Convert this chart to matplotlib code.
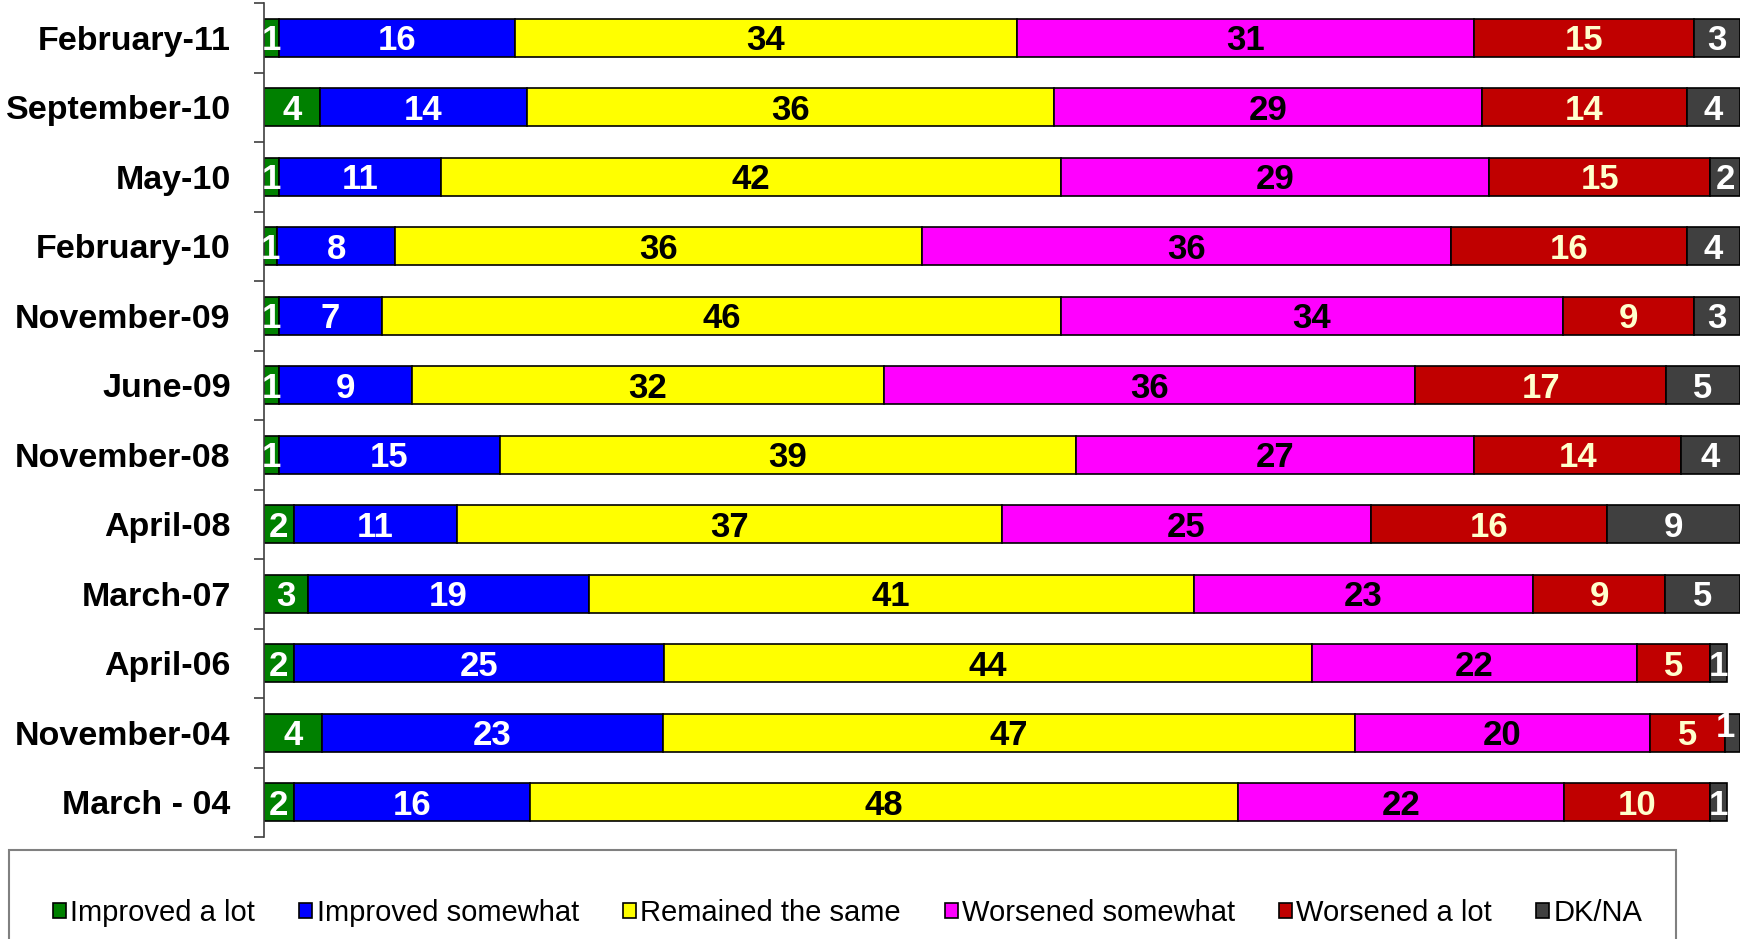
import numpy as np
import matplotlib.pyplot as plt
from matplotlib.patches import Rectangle, Patch

# Survey waves, top to bottom
periods = ["February-11", "September-10", "May-10", "February-10", "November-09",
           "June-09", "November-08", "April-08", "March-07", "April-06",
           "November-04", "March - 04"]

# Shares (%)
improved_lot = [1.0, 3.8, 1.0, 0.9, 1.0, 1.0, 1.0, 2.0, 3.0, 2.0, 3.9, 2.0]
improved_some = [16.0, 14.0, 11.0, 8.0, 7.0, 9.0, 15.0, 11.1, 19.0, 25.1, 23.1, 16.0]
remained_same = [34.0, 35.7, 42.0, 35.7, 46.0, 32.0, 39.0, 36.9, 41.0, 43.9, 46.9, 48.0]
worsened_some = [31.0, 29.0, 29.0, 35.8, 34.0, 36.0, 27.0, 25.0, 23.0, 22.0, 20.0, 22.1]
worsened_lot = [14.9, 13.9, 15.0, 16.0, 8.9, 17.0, 14.0, 16.0, 8.9, 5.0, 5.1, 9.9]
dk_na = [3.1, 3.6, 2.0, 3.6, 3.1, 5.0, 4.0, 9.0, 5.1, 1.1, 1.0, 1.1]

series_names = ["Improved a lot", "Improved somewhat", "Remained the same",
                "Worsened somewhat", "Worsened a lot", "DK/NA"]
series = [improved_lot, improved_some, remained_same, worsened_some, worsened_lot, dk_na]
fill_colors = ["#008000", "#0000FF", "#FFFF00", "#FF00FF", "#C00000", "#404040"]
text_colors = ["white", "white", "black", "black", "#FFFFCC", "white"]

plt.rcParams['font.family'] = ['Liberation Sans', 'DejaVu Sans']

fig = plt.figure(figsize=(17.43, 9.39), dpi=100)
ax = fig.add_axes([264 / 1743, 1 - 837 / 939, 1476 / 1743, (837 - 3) / 939])

num_size = 25
y = np.arange(len(periods))
left = np.zeros(len(periods))
for name, vals, fc, tc in zip(series_names, series, fill_colors, text_colors):
    vals = np.array(vals)
    ax.barh(y, vals, left=left, height=0.55, color=fc, edgecolor="black",
            linewidth=1.2, label=name)
    for i, (l, v) in enumerate(zip(left, vals)):
        xt, yt = l + v / 2, y[i]
        dx, dy = 0, -0.36 * num_size
        # the tiny DK/NA slice of November-04 has its label nudged up-left
        if name == "DK/NA" and periods[i] == "November-04":
            dx, dy = -5, dy + 6
        ax.annotate(f"{v:.0f}", (xt, yt), xytext=(dx, dy), textcoords="offset points",
                    ha="center", va="baseline", color=tc,
                    fontsize=num_size, fontweight="bold")
    left += vals

ax.set_xlim(0, 100)
ax.set_ylim(len(periods) - 0.5, -0.5)
ax.set_yticks(y)
ax.set_yticklabels(periods, fontsize=24.5, fontweight="bold")
ax.set_yticks(np.arange(-0.5, len(periods)), minor=True)
ax.tick_params(axis="y", which="major", length=0, pad=24)
ax.tick_params(axis="y", which="minor", length=7, width=1.2, color="#404040")
ax.set_xticks([])
for s in ["top", "right", "bottom"]:
    ax.spines[s].set_visible(False)
ax.spines["left"].set_color("#404040")
ax.spines["left"].set_linewidth(1.2)

# Legend with a frame running off the bottom edge
fig.patches.append(Rectangle((9 / 1743, -0.05), 1667 / 1743, (939 - 850) / 939 + 0.05,
                             transform=fig.transFigure, fill=False,
                             edgecolor="#808080", linewidth=1.5))
handles = [Patch(facecolor=c, edgecolor="black", linewidth=1.2) for c in fill_colors]
fig.legend(handles, series_names, loc="center left",
           bbox_to_anchor=(53 / 1743, 1 - 913 / 939), ncol=6, frameon=False,
           fontsize=21, handlelength=0.45, handleheight=0.45, handletextpad=0.15,
           columnspacing=1.5, borderpad=0, borderaxespad=0)

fig.savefig("out.png", dpi=100)
